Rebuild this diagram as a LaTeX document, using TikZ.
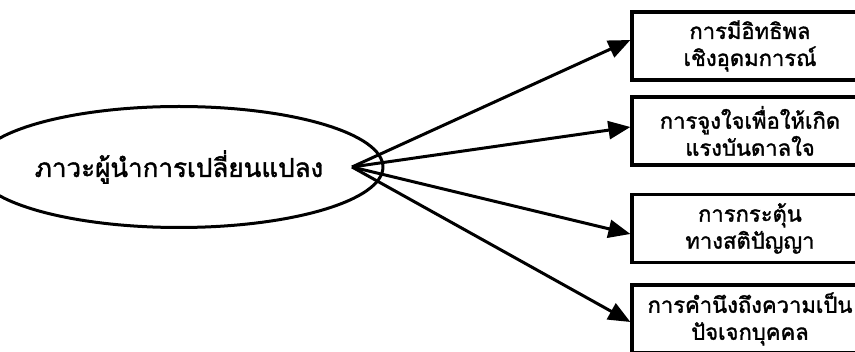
\documentclass[tikz,border=0pt]{standalone}
\usepackage{fontspec}
\newfontfamily\thaifont[Script=Thai,FakeBold=1.5]{Loma}
\usetikzlibrary{arrows.meta,shapes.geometric}
\begin{document}
\begin{tikzpicture}[x=1pt,y=-1pt,
  lbox/.style={draw,line width=3.2pt,minimum width=236pt,minimum height=68pt,inner sep=0pt,align=center,font=\thaifont\fontsize{22}{27}\selectfont},
  conn/.style={line width=3pt,-{Triangle[length=22pt,width=18pt]}}]
\useasboundingbox (0,0) rectangle (855,352);
\fill[white] (0,0) rectangle (855,352);
\clip (0,0) rectangle (855,352);
\node[draw,ellipse,line width=3pt,minimum width=344pt,minimum height=121pt,inner sep=0pt,font=\thaifont\fontsize{26}{31}\selectfont] (e) at (179,167) {ภาวะผู้นำการเปลี่ยนแปลง};
\node[lbox] (b1) at (750,46) {การมีอิทธิพล\\เชิงอุดมการณ์};
\node[lbox] (b2) at (750,131) {การจูงใจเพื่อให้เกิด\\แรงบันดาลใจ};
\node[lbox] (b3) at (750,228.5) {การกระตุ้น\\ทางสติปัญญา};
\node[lbox] (b4) at (750,319) {การคำนึงถึงความเป็น\\ปัจเจกบุคคล};
\coordinate (o) at (352,167);
\draw[conn] (o) -- ([yshift=6pt]b1.west);
\draw[conn] (o) -- ([yshift=4pt]b2.west);
\draw[conn] (o) -- ([yshift=-5.5pt]b3.west);
\draw[conn] (o) -- ([yshift=-3pt]b4.west);
\end{tikzpicture}
\end{document}
